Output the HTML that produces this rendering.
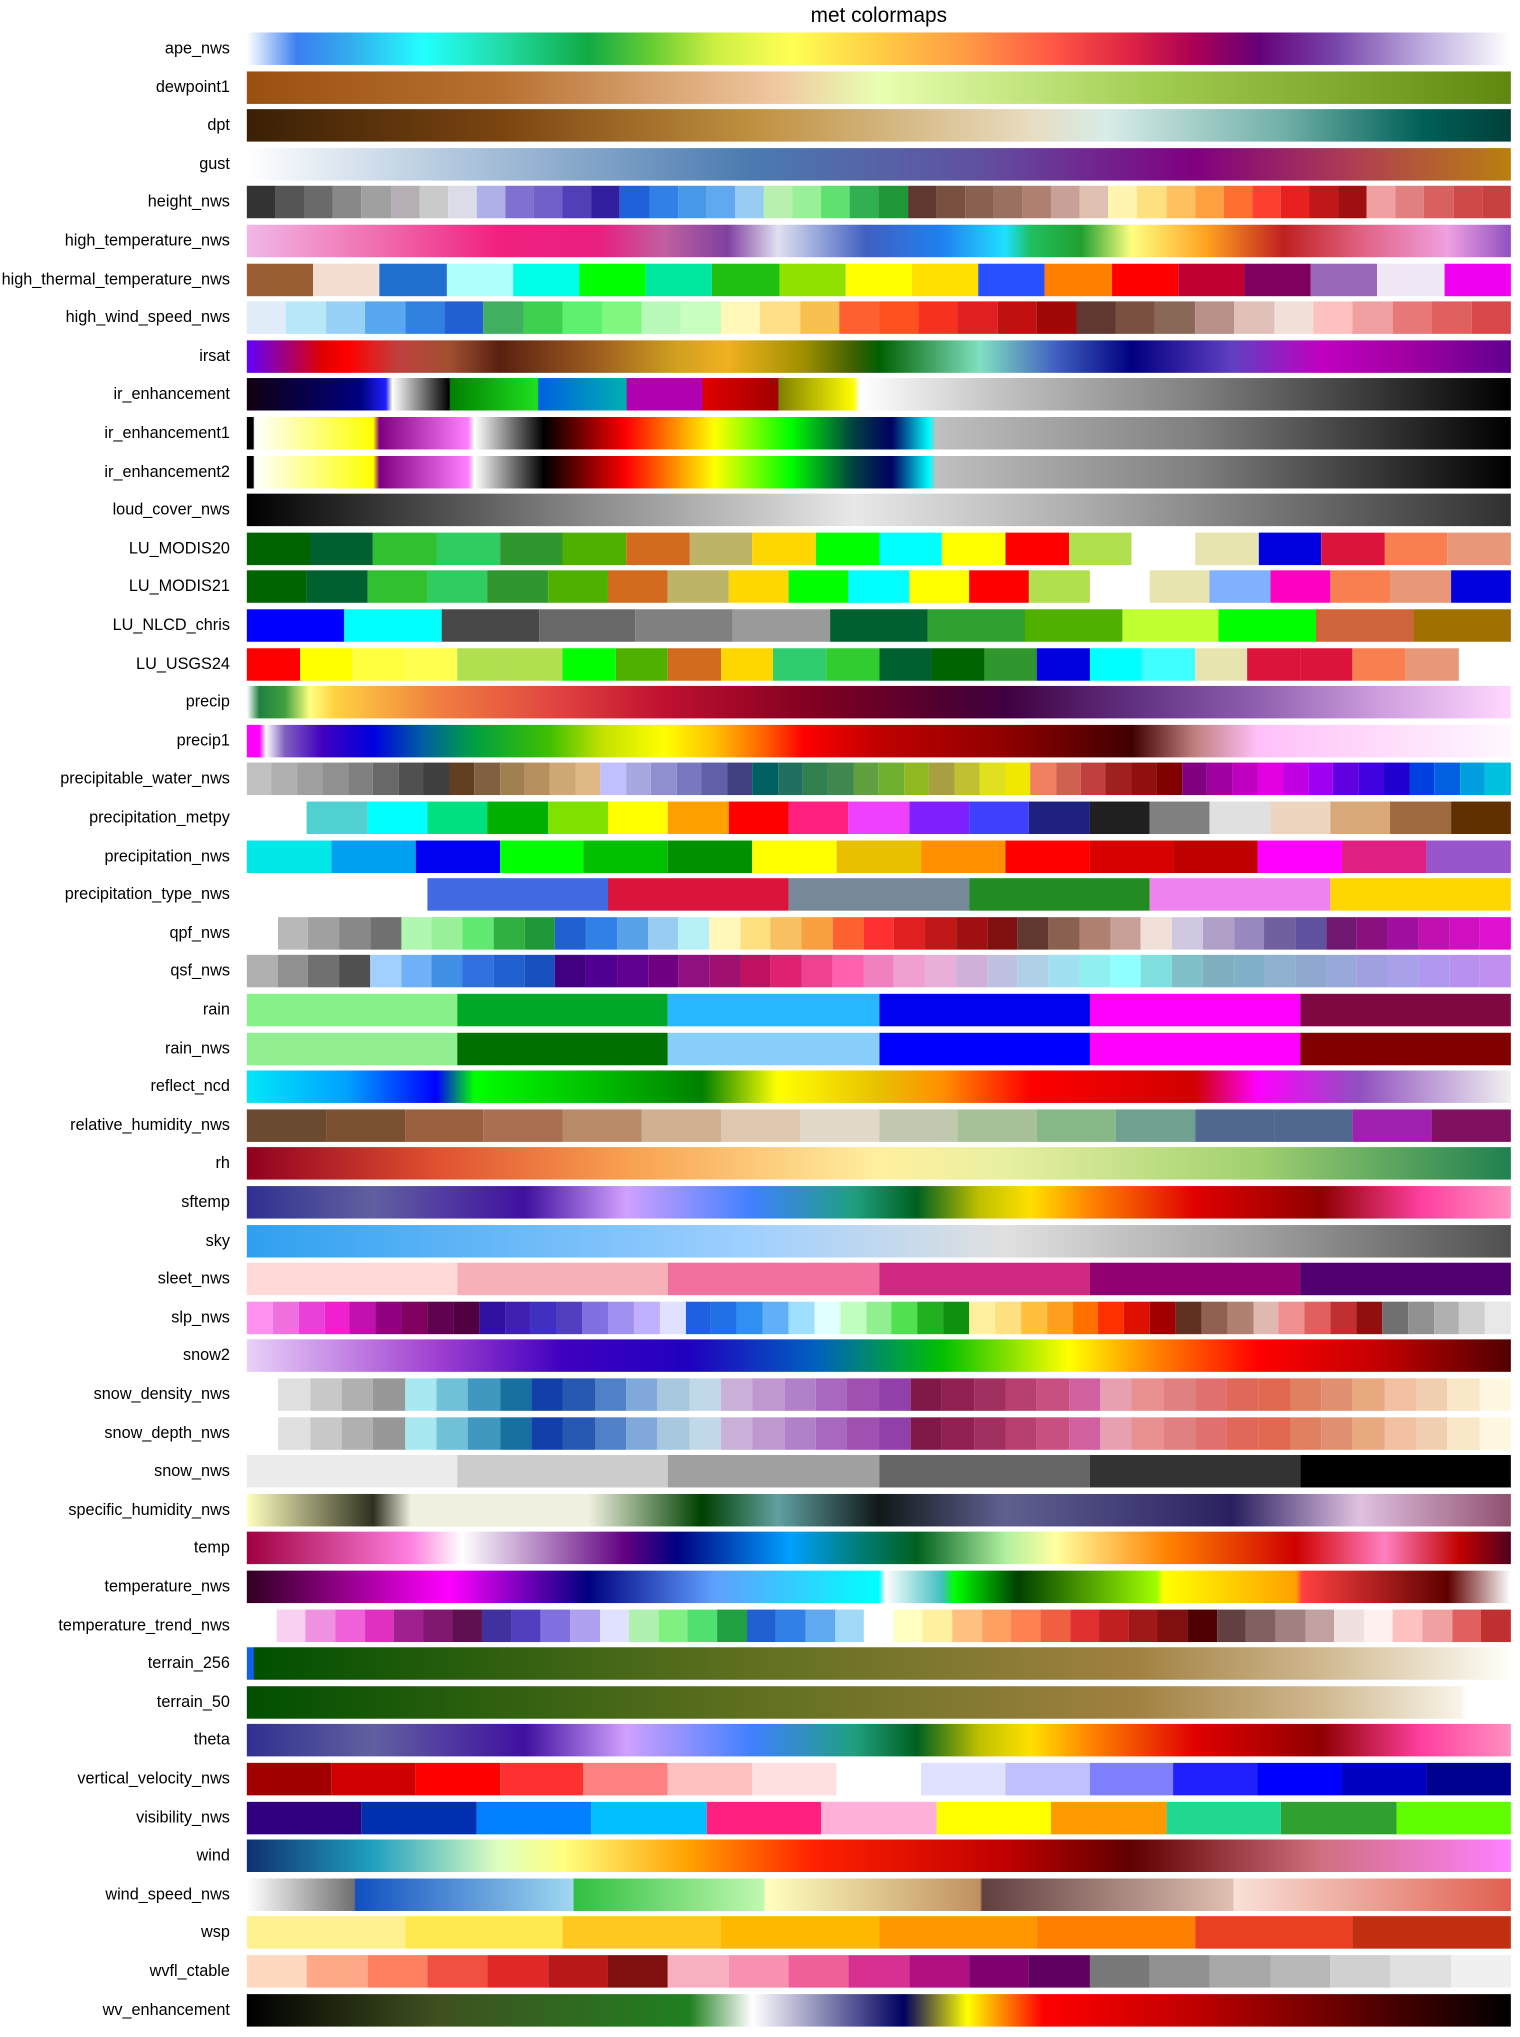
<!DOCTYPE html>
<html><head><meta charset="utf-8"><style>
body{margin:0;background:#fff;width:1520px;height:2036px;position:relative;font-family:"Liberation Sans","DejaVu Sans",sans-serif;overflow:hidden}
#wrap{position:absolute;left:0;top:0;width:1170px;height:1568px;transform:scale(1.2991);transform-origin:0 0}
#title{position:absolute;left:190px;width:973px;top:4px;text-align:center;font-size:16px;color:#000}
.lbl{position:absolute;right:993px;font-size:12.5px;color:#000;white-space:nowrap;line-height:16px}
.bar{position:absolute;left:190px;width:973px;height:25px;display:flex}
.bar div{flex:1;height:100%}
</style></head><body>
<div id="wrap">
<div id="title">met colormaps</div>
<div id="chart"></div>
</div>
<script>
const names=["ape_nws","dewpoint1","dpt","gust","height_nws","high_temperature_nws","high_thermal_temperature_nws","high_wind_speed_nws","irsat","ir_enhancement","ir_enhancement1","ir_enhancement2","loud_cover_nws","LU_MODIS20","LU_MODIS21","LU_NLCD_chris","LU_USGS24","precip","precip1","precipitable_water_nws","precipitation_metpy","precipitation_nws","precipitation_type_nws","qpf_nws","qsf_nws","rain","rain_nws","reflect_ncd","relative_humidity_nws","rh","sftemp","sky","sleet_nws","slp_nws","snow2","snow_density_nws","snow_depth_nws","snow_nws","specific_humidity_nws","temp","temperature_nws","temperature_trend_nws","terrain_256","terrain_50","theta","vertical_velocity_nws","visibility_nws","wind","wind_speed_nws","wsp","wvfl_ctable","wv_enhancement"];
const sft="g:#303090 0%,#6060a0 10%,#4010a0 22%,#d0a0ff 30%,#4080ff 40%,#20a080 48%,#006020 53%,#c0c000 58%,#ffe000 62%,#ff8000 67%,#e00000 75%,#900000 85%,#ff40a0 93%,#ff90c0 100%";
const ir1="g:#000 0%,#000 0.5%,#fff 0.6%,#ffff00 10%,#800080 10.5%,#ff80ff 17.5%,#fff 18%,#000 23.5%,#ff0000 30%,#ffff00 37%,#00ff00 43%,#004040 48%,#000060 51%,#00ffff 54%,#c0c0c0 54.5%,#808080 75%,#000 100%";
const snowD="#fff,#e0e0e0,#c8c8c8,#b0b0b0,#989898,#a8e8f0,#70c0d8,#4098c0,#1870a0,#1040a8,#2858b0,#5080c8,#80a8d8,#a8c8e0,#c0d8e8,#c8b0d8,#c098d0,#b080c8,#a868c0,#a050b0,#9040a8,#801848,#902050,#a03060,#b84070,#c85080,#d060a0,#e8a0b0,#e89090,#e08080,#e07070,#e06858,#e06850,#e08060,#e09070,#e8a880,#f0c0a0,#f0d0b0,#f8e8c8,#fff8e0";
const cmaps=[
"g:#fff 0%,#3a7ff0 4%,#33aaee 8%,#22ffff 14%,#22ddaa 20%,#11aa44 27%,#66cc33 32%,#ccee44 37%,#ffff55 43%,#ffcc44 50%,#ff9944 57%,#ff5544 64%,#dd2244 70%,#aa0055 75%,#660077 80%,#7744aa 86%,#bbaadd 93%,#fff 100%",
"g:#9a5010 0%,#b87030 20%,#f0c8a0 42%,#e8ffb0 50%,#a0cc50 72%,#608810 100%",
"g:#3a2006 0%,#7a4410 20%,#c09040 40%,#e8dcc0 62%,#d8ece8 68%,#70b0a8 82%,#006058 93%,#00403a 100%",
"g:#fff 0%,#b8cce0 15%,#4a7ab0 40%,#6050a0 58%,#800080 75%,#b04050 88%,#b88010 100%",
"#333,#555,#6a6a6a,#888,#a0a0a0,#b5aeb5,#cacaca,#dcdce8,#b0b0e8,#8070d0,#7060c8,#5040b8,#3020a0,#2060d8,#3080e8,#4898e8,#60a8f0,#98ccf0,#b8f0b0,#98f098,#60e070,#30b050,#209838,#603830,#7a5040,#8a6050,#9a7060,#b08070,#c8a098,#e0c0b0,#fff4b0,#ffe080,#ffc060,#ffa040,#ff7030,#ff4030,#e82020,#c01818,#a01010,#f0a0a0,#e08080,#d86060,#d04848,#c84040",
"g:#f0b8e8 0%,#f070b0 10%,#f02080 20%,#e82080 28%,#c060a0 33%,#8040a0 38%,#e0e0f0 42%,#4060c0 49%,#2080f0 55%,#20e0ff 60%,#20c060 62%,#20a030 66%,#ffff80 70%,#ffa020 76%,#c02020 82%,#e06080 88%,#f0a0e0 95%,#9050c0 100%",
"#9a6033,#f3dcd0,#2070d0,#b0ffff,#00ffe8,#00ff00,#00e8a0,#20c010,#90e000,#ffff00,#ffe000,#2850ff,#ff8000,#ff0000,#c00030,#800060,#9a68b8,#f0e8f5,#f000f0",
"#e0ecf8,#b8e8f8,#98d0f8,#58a8f0,#3080e0,#2060d0,#40b060,#40d050,#60f070,#80f880,#b8f8b8,#c8ffc0,#fff8b8,#ffe088,#f8c050,#ff6030,#ff5020,#f83020,#e02020,#c01010,#a00808,#603830,#7a5040,#8a6858,#b89088,#e0c0b8,#f0e0d8,#ffc0c0,#f0a0a0,#e87878,#e06060,#d84848",
"g:#6000ff 0%,#e00000 6%,#ff0000 8%,#c04040 12%,#a05030 16%,#5a2010 20%,#a06020 28%,#d0a020 34%,#f0b020 38%,#a09000 44%,#406000 48%,#006000 50%,#40a060 54%,#80e0c0 58%,#4060c0 64%,#000080 70%,#6040c0 78%,#c000c0 85%,#a000a0 92%,#600090 100%",
"g:#100010 0%,#000080 9%,#2020ff 11%,#fff 11.5%,#000 16%,#008000 16.1%,#20e020 23%,#0060e0 23.1%,#00b0b0 30%,#b000b0 30.1%,#b000b0 36%,#e00000 36.1%,#a00000 42%,#808000 42.1%,#ffff00 48%,#fff 48.5%,#c0c0c0 60%,#808080 75%,#000 100%",
ir1, ir1,
"g:#000 0%,#808080 25%,#e8e8e8 48%,#b0b0b0 65%,#303030 100%",
"#006400,#006030,#30c030,#30cc60,#30962e,#50b000,#d26b1e,#bdb468,#ffd700,#00ff00,#00ffff,#ffff00,#ff0000,#b0e050,#ffffff,#e8e4b0,#0000e0,#dc143c,#f88050,#e89878",
"#006400,#006030,#30c030,#30cc60,#30962e,#50b000,#d26b1e,#bdb468,#ffd700,#00ff00,#00ffff,#ffff00,#ff0000,#b0e050,#ffffff,#e8e4b0,#80b0ff,#ff00c0,#f88050,#e89878,#0000e0",
"#0000ff,#00ffff,#484848,#686868,#808080,#9a9a9a,#006030,#30a030,#50b000,#c0ff30,#00ff00,#d0643a,#a07000",
"#ff0000,#ffff00,#ffff40,#ffff50,#b0e050,#b0e050,#00ff00,#50b000,#d26b1e,#ffd700,#30cc70,#30cc30,#006030,#006400,#30962e,#0000e0,#00ffff,#40ffff,#e8e4b0,#dc143c,#dc143c,#f88050,#e89878,#ffffff",
"g:#fff 0%,#208040 1%,#40a040 3%,#a0d060 4%,#ffff80 5%,#ffd040 7%,#f08040 15%,#e04040 25%,#c01030 33%,#800020 45%,#500030 55%,#400040 60%,#603080 70%,#9060b0 80%,#d0a0e0 90%,#ffd8ff 100%",
"g:#ff00ff 0%,#ff00ff 1%,#fff 1.5%,#8060c0 3%,#4000c0 6%,#0000e0 10%,#0060a0 14%,#00a040 18%,#40c000 24%,#c0e000 28%,#ffff00 33%,#ffc000 37%,#ff6000 41%,#ff0000 44%,#c00000 50%,#900000 60%,#400000 70%,#c08080 75%,#ffc0f8 80%,#fff8ff 100%",
"#c0c0c0,#b0b0b0,#a0a0a0,#909090,#808080,#686868,#505050,#404040,#604020,#806040,#a08050,#b89060,#d0a878,#e0b888,#c0c0ff,#a8a8e0,#9090d0,#7878c0,#6060a8,#404080,#006060,#207060,#308050,#408850,#60a040,#70b030,#90b820,#a8a040,#c0c030,#e0e020,#f0e800,#f08060,#d06050,#c04040,#a02020,#901010,#800000,#800080,#a000a0,#c000c0,#e000e0,#c000e0,#a000f0,#6000e0,#4000e0,#2000d0,#0040e0,#0060e0,#00a0e0,#00c0e0",
"#fff,#50d0d0,#00ffff,#00e080,#00b000,#80e000,#ffff00,#ffa000,#ff0000,#ff2080,#f040ff,#8020ff,#4040ff,#202080,#202020,#808080,#e0e0e0,#eed5c0,#d8a878,#a06a40,#603000",
"#00e8e8,#00a0f0,#0000f0,#00ff00,#00c000,#009000,#ffff00,#e8c000,#ff9000,#ff0000,#d80000,#c00000,#ff00ff,#e02080,#9955cc",
"#fff,#4169e1,#dc143c,#778899,#228b22,#ee82ee,#ffd700",
"#fff,#b8b8b8,#a0a0a0,#888,#707070,#b0f8b0,#98f098,#60e870,#30b040,#209838,#2060d0,#3080e8,#58a0e8,#98ccf0,#b8f0f8,#fff8b8,#ffe080,#f8c060,#f8a040,#ff6030,#ff3030,#e02020,#c01818,#a01010,#801010,#603830,#8a6050,#b08070,#c8a098,#f0e0d8,#d0c8e0,#b0a0c8,#9888c0,#7060a0,#6050a0,#701870,#8a1080,#a010a0,#c010b0,#d010c0,#e010d0",
"#b0b0b0,#909090,#707070,#505050,#a0d0ff,#70b0f8,#4090e8,#3070e0,#2060d0,#1850c0,#400080,#500090,#600090,#700080,#901080,#a01070,#c01060,#e02070,#f04090,#ff60b0,#f080c0,#f0a0d0,#e8b0d8,#d0b0d8,#c0c0e0,#b0d0e8,#a0e0f0,#90f0f0,#90ffff,#80e0e0,#80c0c8,#80b0c0,#80b0c8,#90b0d0,#90a8d0,#98a8d8,#a0a0e0,#a8a0e8,#b098f0,#b890f0,#c090f0",
"#88f088,#00a828,#28b8ff,#0000f0,#ff00ff,#800840",
"#90ee90,#007000,#87cefa,#0000ff,#ff00ff,#800000",
"g:#00e8f8 0%,#00a0ff 8%,#0000ff 15%,#00ff00 18%,#00d000 25%,#008000 36%,#ffff00 42%,#e8c000 50%,#ff9000 55%,#ff0000 62%,#d00000 75%,#ff00ff 80%,#9050c0 88%,#f0f0f0 100%",
"#6a4a30,#7a5030,#9a6040,#a87050,#b88a68,#d0b090,#e0c8b0,#e0d8c8,#c0c8b0,#a8c098,#88b888,#70a090,#506890,#506890,#a020b0,#801060",
"g:#900020 0%,#e05030 15%,#f8a050 30%,#fff0a0 50%,#e8f0a0 60%,#a0d070 80%,#208050 100%",
sft,
"g:#2ea0f0 0%,#a0d0ff 40%,#e0e0e0 60%,#a0a0a0 80%,#505050 100%",
"#ffd8d8,#f8b0b8,#f070a0,#d02880,#900070,#500070",
"#ff90f0,#f070e0,#e840d8,#f020d0,#c010b0,#900080,#800060,#600050,#500040,#3010a0,#4020b0,#4030c0,#5040c0,#8070e0,#a090f0,#c0b0ff,#e0e0ff,#2060e0,#2070e8,#3090f0,#60b0f8,#a0e0ff,#e0ffff,#c0ffc0,#90f090,#50e050,#20b020,#109010,#fff0a0,#ffe080,#ffc040,#ffa020,#ff7000,#ff3000,#e01000,#a00000,#603020,#906050,#b08070,#e0b8b0,#f09090,#e06060,#c03030,#901010,#707070,#909090,#b0b0b0,#d0d0d0,#e8e8e8",
"g:#e8d0f8 0%,#a040d0 15%,#4000c0 25%,#2000c0 35%,#0060c0 45%,#00c000 55%,#ffff00 65%,#ff8000 72%,#ff0000 80%,#c00000 90%,#500000 100%",
snowD, snowD,
"#ebebeb,#cccccc,#a0a0a0,#666666,#333333,#000000",
"g:#ffffc0 0%,#303020 10%,#f0f0e0 13%,#f0f0e0 27%,#004000 36%,#60a0a0 42%,#101818 50%,#606090 60%,#2a2060 78%,#e0c0e0 88%,#905070 100%",
"g:#a00040 0%,#ff80e0 13%,#fff 17%,#600080 30%,#000080 34%,#00a0ff 43%,#008080 48%,#006020 53%,#b0f0a0 60%,#ffffa0 64%,#ff8000 73%,#d00000 83%,#ff80c0 90%,#c00000 96%,#500020 100%",
"g:#300020 0%,#ff00ff 16%,#000080 27%,#60a0ff 37%,#00ffff 50%,#fff 50.5%,#40c0c0 55%,#00ff00 56%,#004000 61%,#a0ff00 72%,#ffff00 72.5%,#ffa000 83%,#ff4040 83.5%,#600000 95%,#fff 100%",
"#fff,#f9d0f0,#f090e0,#f060d8,#e030c0,#a02090,#801870,#601050,#4030a0,#5040c0,#8070e0,#b0a0f0,#e0e0ff,#b0f0b0,#80f080,#50e070,#20a040,#2060d0,#3080e8,#60a8f0,#a0d8f8,#fff,#ffffc0,#fff0a0,#ffc080,#ffa060,#ff8050,#f06040,#e03030,#c02020,#a01818,#801010,#500000,#604040,#806060,#a08080,#c0a0a0,#f0e0e0,#fff0f0,#ffc0c0,#f0a0a0,#e06060,#c03030",
"g:#1060f0 0%,#1060f0 0.5%,#005000 0.6%,#607020 40%,#a08040 70%,#d0b890 85%,#fffff8 100%",
"g:#005000 0%,#607020 40%,#a08040 70%,#d0b890 85%,#f8f4e8 96%,#fff 96.5%,#fff 100%",
sft,
"#a00000,#d00000,#ff0000,#ff3030,#ff8080,#ffc0c0,#ffe0e0,#ffffff,#e0e0ff,#c0c0ff,#8080ff,#2020ff,#0000ff,#0000c0,#000090",
"#300080,#0030b0,#0080ff,#00c0ff,#ff2080,#ffb0d8,#ffff00,#ff9900,#20d890,#30a030,#60ff00",
"g:#103070 0%,#20a0c0 10%,#e0ffc0 20%,#ffff80 25%,#ffa000 35%,#ff2000 45%,#c00000 60%,#600000 70%,#d07080 85%,#ff80ff 100%",
"g:#fff 0%,#707070 8.5%,#1050c0 8.6%,#a0d8f0 25.8%,#30c040 25.9%,#c0f8b0 40.9%,#ffffc0 41%,#c09060 58%,#604040 58.2%,#e0c0b0 78%,#f8e0d8 78.1%,#e06050 100%",
"#fff090,#ffe850,#ffc820,#ffb800,#ff9800,#ff8000,#e84020,#c03010",
"#ffd8c0,#ffa888,#ff8060,#f05040,#e02828,#b81818,#801010,#f8b0c0,#f890b0,#f06098,#d83090,#b01080,#800070,#600060,#787878,#909090,#a8a8a8,#b8b8b8,#d0d0d0,#e0e0e0,#f0f0f0",
"g:#000 0%,#405020 15%,#208020 35%,#fff 40%,#000060 52%,#ffff00 57%,#ff0000 63%,#c00000 75%,#000 100%"
];
const chart=document.getElementById('chart');
const y0=25, step=29.6;
names.forEach((n,i)=>{
  const top=y0+i*step;
  const l=document.createElement('div');
  l.className='lbl';
  l.style.top=(top+4)+'px';
  l.textContent=n;
  
  
  chart.appendChild(l);
  const b=document.createElement('div');
  b.className='bar';
  b.style.top=top+'px';
  
  
  const c=cmaps[i];
  if(c.startsWith('g:')){
    b.style.background='linear-gradient(to right,'+c.slice(2)+')';
  } else {
    c.split(',').forEach(col=>{
      const s=document.createElement('div');
      s.style.background=col;
      
      
      b.appendChild(s);
    });
  }
  chart.appendChild(b);
});
</script>
</body></html>
